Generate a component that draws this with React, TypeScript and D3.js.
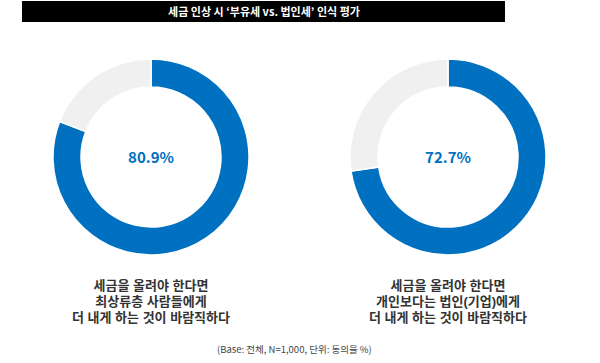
import * as d3 from "d3";
import React from "react";

// 데이터
const titleText = "세금 인상 시 ‘부유세 vs. 법인세’ 인식 평가";
const agreeRates = [80.9, 72.7];
const captions = [
  ["세금을 올려야 한다면", "최상류층 사람들에게", "더 내게 하는 것이 바람직하다"],
  ["세금을 올려야 한다면", "개인보다는 법인(기업)에게", "더 내게 하는 것이 바람직하다"],
];
const footnote = "(Base: 전체, N=1,000, 단위: 동의율 %)";

const W = 600;
const H = 363;
const BLUE = "#0070C0";
const GRAY = "#F0F0F0";
const FONT = "'Noto Sans CJK KR', 'Noto Sans', sans-serif";
// 줄 간격이 좁은 설명 문구용 (라틴 기본 글꼴 + 한글 대체)
const CAPTION_FONT = "'Liberation Sans', 'Noto Sans CJK KR', sans-serif";

export default function App() {
  const x = d3.scalePoint<number>().domain([0, 1]).range([151, 448]);
  const cy = 157;
  const outerR = 98;
  const innerR = 70;

  const pie = d3
    .pie<number>()
    .sort(null)
    .value((d) => d);
  const arc = d3.arc<d3.PieArcDatum<number>>().innerRadius(innerR).outerRadius(outerR);

  return (
    <svg
      width={W}
      height={H}
      style={{ position: "absolute", left: 0, top: 0, background: "#fff" }}
      fontFamily={FONT}
    >
      {/* 제목 */}
      <rect x={22} y={1} width={483} height={21} fill="#000" />
      <text x={264} y={15.5} textAnchor="middle" fill="#fff" fontSize={11} fontWeight="bold">
        {titleText}
      </text>

      {agreeRates.map((v, i) => (
        <g key={i} transform={`translate(${x(i)}, ${cy})`}>
          {pie([v, 100 - v]).map((a, j) => (
            <path
              key={j}
              d={arc(a) || ""}
              fill={j === 0 ? BLUE : GRAY}
              stroke="#fff"
              strokeWidth={1.5}
            />
          ))}
          <text
            y={6}
            textAnchor="middle"
            fill={BLUE}
            fontSize={15}
            fontWeight="bold"
          >
            {v.toFixed(1)}%
          </text>
        </g>
      ))}

      {/* 설명 문구 */}
      {captions.map((lines, i) => (
        <g key={i}>
          {lines.map((t, k) => (
            <text
              key={k}
              x={x(i)}
              y={290 + k * 16}
              textAnchor="middle"
              fill="#333"
              fontSize={13}
              fontWeight="bold"
              fontFamily={CAPTION_FONT}
            >
              {t}
            </text>
          ))}
        </g>
      ))}

      <text x={217} y={353} fill="#444" fontSize={9.5}>
        {footnote}
      </text>
    </svg>
  );
}
